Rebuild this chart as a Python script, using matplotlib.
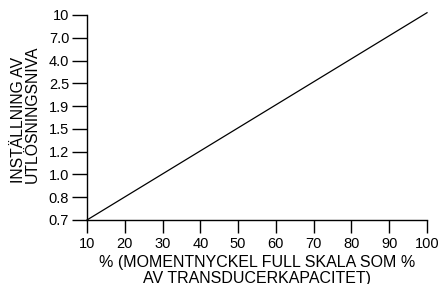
import matplotlib
matplotlib.use('Agg')
import matplotlib.pyplot as plt

plt.rcParams['font.family'] = ['Liberation Sans', 'DejaVu Sans']

# y-axis levels are evenly spaced categories (bottom to top)
y_labels = ['0.7', '0.8', '1.0', '1.2', '1.5', '1.9', '2.5', '4.0', '7.0', '10']
x_ticks = [10, 20, 30, 40, 50, 60, 70, 80, 90, 100]

# line, y in category-position units
line_x = [10, 100]
line_y = [0, 9.1]

fig = plt.figure(figsize=(4.38, 2.84), dpi=100)
ax = fig.add_axes([0.1986, 0.2254, 0.7763, 0.7218])

ax.plot(line_x, line_y, color='black', linewidth=0.9, clip_on=False)

ax.set_xlim(10, 100)
ax.set_ylim(0, len(y_labels) - 1)
ax.set_xticks(x_ticks)
ax.set_yticks(range(len(y_labels)))
ax.set_yticklabels(y_labels)

for s in ['top', 'right']:
    ax.spines[s].set_visible(False)
for s in ['left', 'bottom']:
    ax.spines[s].set_linewidth(1.0)

ax.tick_params(axis='x', direction='out', length=9.4, width=1.0, pad=2.5, labelsize=10.5)
ax.tick_params(axis='y', direction='out', length=10.8, width=1.0, pad=2, labelsize=10.5)

ax.set_xlabel('% (MOMENTNYCKEL FULL SKALA SOM %\nAV TRANSDUCERKAPACITET)',
              fontsize=11.5, linespacing=1.1, labelpad=3)
ax.set_ylabel('INSTÄLLNING AV\nUTLÖSNINGSNIVA', fontsize=11.3, linespacing=0.95,
              multialignment='left')
ax.yaxis.set_label_coords(-0.138, 0.515)

plt.savefig('out.png', dpi=100)
